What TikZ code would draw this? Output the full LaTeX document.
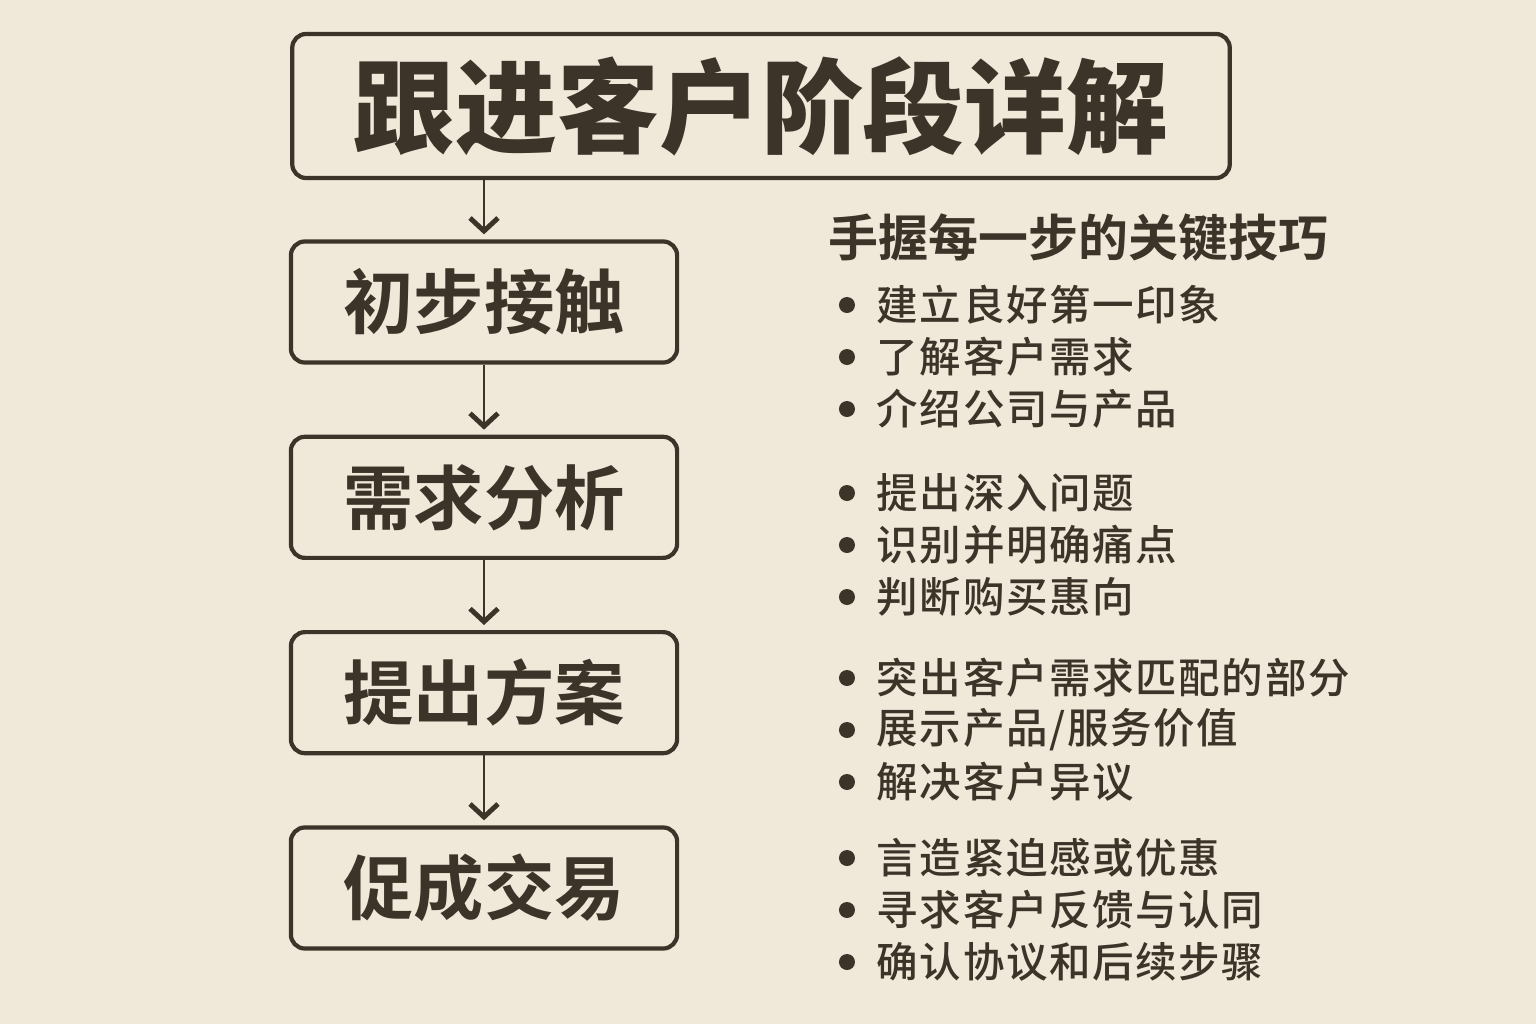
\documentclass[tikz,border=0pt]{standalone}
\usepackage{fontspec}
\newfontfamily\cjkbold{Noto Sans CJK SC Bold}
\newfontfamily\cjkblack{Noto Sans CJK SC Black}
\newfontfamily\cjkmed[LetterSpace=4]{Noto Sans CJK SC Medium}
\usepackage{tikz}
\usetikzlibrary{arrows.meta,positioning}
\definecolor{paper}{HTML}{F0E9DA}
\definecolor{ink}{HTML}{3D3429}

\begin{document}
\begin{tikzpicture}[x=0.01cm,y=-0.01cm,
  stage/.style={draw=ink,line width=1.2pt,rounded corners=0.14cm,inner sep=0pt,
    minimum width=3.86cm,minimum height=1.21cm,text=ink,
    font=\cjkbold\fontsize{20}{22}\selectfont},
  flow/.style={draw=ink,line width=0.8pt,shorten >=0.05cm,
    -{Straight Barb[length=0.13cm,width=0.28cm,line width=1.4pt]}},
  tip/.style={anchor=west,text=ink,inner sep=0pt,
    font=\cjkmed\fontsize{11.8}{13}\selectfont}]
\fill[paper] (0,0) rectangle (1536,1024);
\useasboundingbox (0,0) rectangle (1536,1024);

% stages down the left side
\node[stage,minimum width=9.37cm,minimum height=1.44cm,
  font=\cjkblack\fontsize{29}{30}\selectfont] (title) at (761,106) {跟进客户阶段详解};
\node[stage] (s1) at (484,302) {初步接触};
\node[stage,below=0.70cm of s1] (s2) {需求分析};
\node[stage,below=0.70cm of s2] (s3) {提出方案};
\node[stage,below=0.70cm of s3] (s4) {促成交易};

\draw[flow] (title.south -| s1.north) -- (s1.north);
\draw[flow] (s1) -- (s2);
\draw[flow] (s2) -- (s3);
\draw[flow] (s3) -- (s4);

% tips on the right
\node[anchor=west,text=ink,inner sep=0pt,
  font=\cjkbold\fontsize{14.2}{16}\selectfont] (head) at (828,238) {手握每一步的关键技巧};

\node[tip] (k1) at (876,305) {建立良好第一印象};
\node[tip] (k2) at (876,357) {了解客户需求};
\node[tip] (k3) at (876,409) {介绍公司与产品};
\node[tip] (k4) at (876,493) {提出深入问题};
\node[tip] (k5) at (876,545) {识别并明确痛点};
\node[tip] (k6) at (876,597) {判断购买惠向};
\node[tip] (k7) at (876,678) {突出客户需求匹配的部分};
\node[tip] (k8) at (876,730) {展示产品/服务价值};
\node[tip] (k9) at (876,782) {解决客户异议};
\node[tip] (k10) at (876,858) {言造紧迫感或优惠};
\node[tip] (k11) at (876,910) {寻求客户反馈与认同};
\node[tip] (k12) at (876,962) {确认协议和后续步骤};

\foreach \k in {k1,k2,k3,k4,k5,k6,k7,k8,k9,k10,k11,k12}
  \fill[ink] ([xshift=-0.29cm]\k.west) circle (0.08cm);
\end{tikzpicture}
\end{document}
